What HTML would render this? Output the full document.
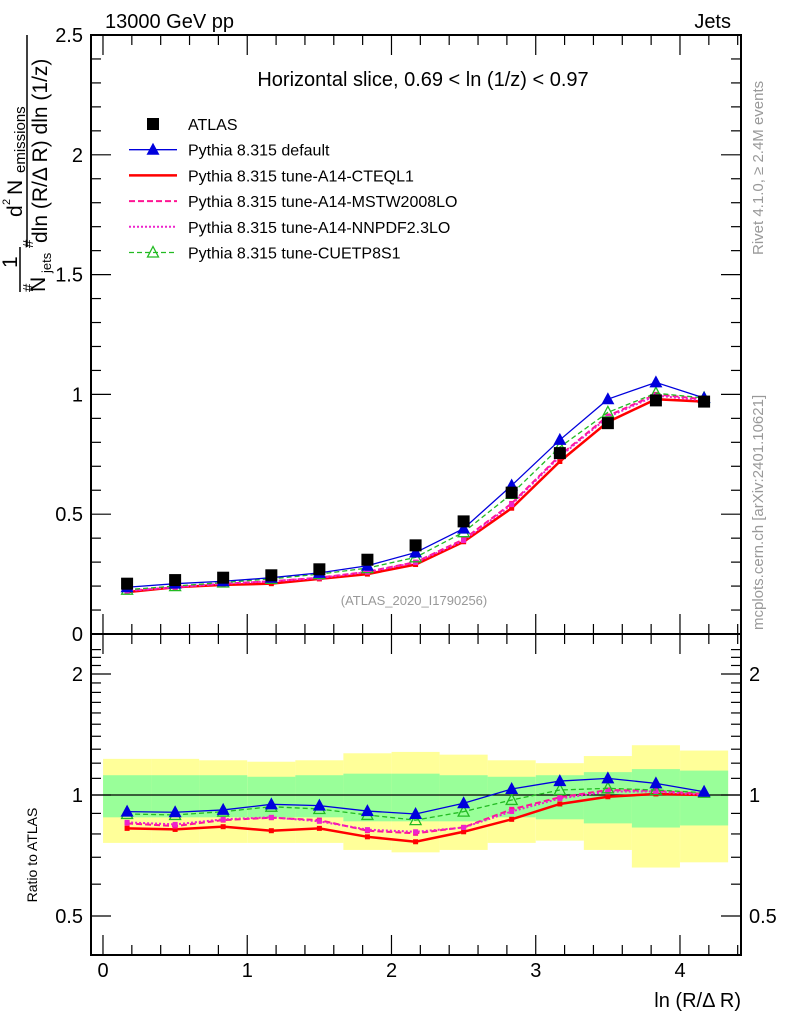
<!DOCTYPE html>
<html><head><meta charset="utf-8"><style>
html,body{margin:0;padding:0;background:#fff;}
svg{display:block;font-family:"Liberation Sans",sans-serif;}
</style></head><body>
<svg id="c" width="786" height="1024" viewBox="0 0 786 1024" xmlns="http://www.w3.org/2000/svg">
<g id="bands"></g>
<g id="axes"></g>
<g id="series"></g>
<text x="105" y="28" font-size="20">13000 GeV pp</text>
<text x="731" y="28" font-size="20" text-anchor="end">Jets</text>
<text x="423" y="86" font-size="20" text-anchor="middle">Horizontal slice, 0.69 &lt; ln (1/z) &lt; 0.97</text>
<text x="414" y="605" font-size="13" fill="#999" text-anchor="middle">(ATLAS_2020_I1790256)</text>
<text transform="translate(763,255) rotate(-90)" font-size="15" fill="#999">Rivet 4.1.0, ≥ 2.4M events</text>
<text transform="translate(763,630) rotate(-90)" font-size="15" fill="#999">mcplots.cern.ch [arXiv:2401.10621]</text>
<text x="741" y="1007" font-size="20" text-anchor="end">ln (R/Δ R)</text>
<text transform="translate(37,855) rotate(-90)" font-size="14" text-anchor="middle">Ratio to ATLAS</text>
<g font-size="21">
<text transform="translate(22,217) rotate(-90)">d</text>
<text transform="translate(10,205) rotate(-90)" font-size="11">2</text>
<text transform="translate(22,195) rotate(-90)">N</text>
<text transform="translate(25,173) rotate(-90)" font-size="15">emissions</text>
<line x1="27" y1="35" x2="27" y2="247" stroke="#000" stroke-width="1.5"/>
<text transform="translate(47,243) rotate(-90)">dln (R/Δ R) dln (1/z)</text>
<text transform="translate(33,248) rotate(-90)" font-size="15">#</text>
<text transform="translate(17,268) rotate(-90)">1</text>
<line x1="20" y1="247" x2="20" y2="292" stroke="#000" stroke-width="1.5"/>
<text transform="translate(33,292) rotate(-90)" font-size="15">#</text>
<text transform="translate(45,292) rotate(-90)">N</text>
<text transform="translate(51,273) rotate(-90)" font-size="13">jets</text>
</g>
<g id="legend"></g>
</svg>
<script>
const xCenters=[0.167,0.5,0.833,1.167,1.5,1.833,2.167,2.5,2.833,3.167,3.5,3.833,4.167];
const binWidth=0.3333;
const atlas=[0.21,0.225,0.235,0.245,0.27,0.31,0.37,0.47,0.59,0.755,0.88,0.975,0.97];
const mcDefault=[0.195,0.21,0.22,0.235,0.255,0.285,0.34,0.44,0.62,0.81,0.98,1.05,0.985];
const mcCTEQ=[0.175,0.195,0.205,0.21,0.23,0.25,0.29,0.385,0.525,0.72,0.885,0.98,0.97];
const mcMSTW=[0.18,0.195,0.21,0.22,0.235,0.26,0.30,0.395,0.545,0.745,0.91,1.0,0.98];
const mcNNPDF=[0.18,0.196,0.21,0.22,0.234,0.258,0.298,0.39,0.54,0.74,0.905,0.995,0.975];
const mcCUETP=[0.185,0.2,0.215,0.23,0.25,0.275,0.32,0.425,0.585,0.78,0.925,1.005,0.985];
const rDefault=[0.909,0.906,0.918,0.948,0.941,0.912,0.897,0.954,1.035,1.083,1.10,1.069,1.019];
const rCTEQ=[0.826,0.821,0.834,0.815,0.826,0.787,0.765,0.810,0.870,0.950,0.990,1.006,1.0];
const rMSTW=[0.850,0.837,0.866,0.878,0.866,0.815,0.803,0.831,0.921,0.987,1.029,1.025,1.006];
const rNNPDF=[0.855,0.845,0.870,0.880,0.860,0.820,0.810,0.830,0.910,0.980,1.020,1.020,1.0];
const rCUETP=[0.897,0.892,0.909,0.935,0.923,0.892,0.866,0.909,0.972,1.029,1.039,1.029,1.013];
const greenHi=[1.12,1.12,1.12,1.11,1.12,1.13,1.13,1.12,1.11,1.12,1.14,1.16,1.15];
const greenLo=[0.88,0.88,0.88,0.88,0.88,0.86,0.86,0.86,0.88,0.87,0.85,0.83,0.84];
const yellowHi=[1.23,1.23,1.22,1.21,1.22,1.27,1.28,1.26,1.22,1.20,1.25,1.33,1.29];
const yellowLo=[0.76,0.76,0.76,0.76,0.76,0.73,0.72,0.73,0.76,0.77,0.73,0.66,0.68];
const yTicks=[0,0.5,1,1.5,2,2.5];
const xTicks=[0,1,2,3,4];
const rTicks=[0.5,1,2];

const NS="http://www.w3.org/2000/svg";
const L=91,R=741,T=35,M=634,B=955;
const X=v=>103+v*144.25;
const Y=v=>634-v*239.6;
const YR=r=>795-121*Math.log2(r);
function mk(p,tag,a){const e=document.createElementNS(NS,tag);for(const k in a)e.setAttribute(k,a[k]);p.appendChild(e);return e;}
const bands=document.getElementById('bands'),axes=document.getElementById('axes'),ser=document.getElementById('series'),leg=document.getElementById('legend');
xCenters.forEach((c,i)=>{
 const x0=X(c-binWidth/2),w=X(c+binWidth/2)-x0;
 const y=mk(bands,'rect',{x:x0,y:YR(yellowHi[i]),width:w,height:YR(yellowLo[i])-YR(yellowHi[i]),fill:'#ffff99'});
 
 
});
xCenters.forEach((c,i)=>{
 const x0=X(c-binWidth/2),w=X(c+binWidth/2)-x0;
 const g=mk(bands,'rect',{x:x0,y:YR(greenHi[i]),width:w,height:YR(greenLo[i])-YR(greenHi[i]),fill:'#99ff99'});
 
 
});
mk(axes,'rect',{x:L,y:T,width:R-L,height:M-T,fill:'none',stroke:'#000','stroke-width':2});
mk(axes,'rect',{x:L,y:M,width:R-L,height:B-M,fill:'none',stroke:'#000','stroke-width':2});
mk(axes,'line',{x1:L,x2:R,y1:YR(1),y2:YR(1),stroke:'#000','stroke-width':1.2});
for(let v=0;v<=2.5001;v+=0.1){const maj=Math.abs(v*2-Math.round(v*2))<1e-6;const len=maj?20:10;
 mk(axes,'line',{x1:L,x2:L+len,y1:Y(v),y2:Y(v),stroke:'#000','stroke-width':1.2});
 mk(axes,'line',{x1:R,x2:R-len,y1:Y(v),y2:Y(v),stroke:'#000','stroke-width':1.2});}
yTicks.forEach(v=>{const t=mk(axes,'text',{x:L-8,y:Y(v)+7,'font-size':20,'text-anchor':'end'});t.textContent=String(v);
 
 });
for(let v=-0.0001;v<=4.4;v+=0.2){const maj=Math.abs(v-Math.round(v))<1e-3;const len=maj?20:10;
 [T,M].forEach(yb=>mk(axes,'line',{x1:X(v),x2:X(v),y1:yb,y2:yb+len,stroke:'#000','stroke-width':1.2}));
 [M,B].forEach(yb=>mk(axes,'line',{x1:X(v),x2:X(v),y1:yb,y2:yb-len,stroke:'#000','stroke-width':1.2}));}
xTicks.forEach(v=>{const t=mk(axes,'text',{x:X(v),y:977,'font-size':20,'text-anchor':'middle'});t.textContent=String(v);
 
 });
for(let r=0.5;r<=2.35;r+=0.1){const rr=Math.round(r*10)/10;if(YR(rr)<M)break;const maj=[0.5,1,2].includes(rr);const len=maj?20:10;
 mk(axes,'line',{x1:L,x2:L+len,y1:YR(rr),y2:YR(rr),stroke:'#000','stroke-width':1.2});
 mk(axes,'line',{x1:R,x2:R-len,y1:YR(rr),y2:YR(rr),stroke:'#000','stroke-width':1.2});}
rTicks.forEach(v=>{[[L-8,'end'],[R+8,'start']].forEach(([x,a])=>{const t=mk(axes,'text',{x:x,y:YR(v)+7,'font-size':20,'text-anchor':a});t.textContent=String(v);
 
 });});

function marker(g,type,x,y,col){
 if(type==='sq') mk(g,'rect',{x:x-6,y:y-6,width:12,height:12,fill:'#000'});
 else if(type==='tri') mk(g,'polygon',{points:`${x},${y-7} ${x-6.5},${y+5} ${x+6.5},${y+5}`,fill:col});
 else if(type==='otri') mk(g,'polygon',{points:`${x},${y-6} ${x-5.5},${y+4.5} ${x+5.5},${y+4.5}`,fill:'none',stroke:col,'stroke-width':1.3});
 else if(type==='dot') mk(g,'rect',{x:x-2.5,y:y-2.5,width:5,height:5,fill:col});
}
const specs=[
 {name:'cteq',top:mcCTEQ,rat:rCTEQ,col:'#ff0000',w:2.5,dash:'',m:'dot'},
 {name:'mstw',top:mcMSTW,rat:rMSTW,col:'#ff1493',w:2,dash:'6,3',m:'dot'},
 {name:'nnpdf',top:mcNNPDF,rat:rNNPDF,col:'#ee22cc',w:2,dash:'2,2',m:'dot'},
 {name:'cuetp',top:mcCUETP,rat:rCUETP,col:'#22bb22',w:1.3,dash:'5,3',m:'otri'},
 {name:'default',top:mcDefault,rat:rDefault,col:'#0000dd',w:1.3,dash:'',m:'tri'}];
specs.forEach(s=>{
 [[s.top,Y],[s.rat,YR]].forEach(([arr,f],k)=>{
  const g=mk(ser,'g',{});
  
  
  const pts=xCenters.map((c,i)=>X(c)+','+f(arr[i])).join(' ');
  const a={points:pts,fill:'none',stroke:s.col,'stroke-width':s.w};if(s.dash)a['stroke-dasharray']=s.dash;
  mk(g,'polyline',a);
  xCenters.forEach((c,i)=>marker(g,s.m,X(c),f(arr[i]),s.col));
 });
});
const dg=mk(ser,'g',{});


xCenters.forEach((c,i)=>marker(dg,'sq',X(c),Y(atlas[i]),'#000'));

const legItems=[['ATLAS','sq','#000','',0],['Pythia 8.315 default','tri','#0000dd','',1.3],['Pythia 8.315 tune-A14-CTEQL1','','#ff0000','',2.5],['Pythia 8.315 tune-A14-MSTW2008LO','','#ff1493','6,3',2],['Pythia 8.315 tune-A14-NNPDF2.3LO','','#ee22cc','2,2',2],['Pythia 8.315 tune-CUETP8S1','otri','#22bb22','5,3',1.3]];
legItems.forEach((it,i)=>{
 const y=124+i*25.7;
 const g=mk(leg,'g',{});
 
 
 if(it[4]){const a={x1:129,x2:177,y1:y,y2:y,stroke:it[2],'stroke-width':it[4]};if(it[3])a['stroke-dasharray']=it[3];mk(g,'line',a);}
 if(it[1])marker(g,it[1],153,y,it[2]);
 const t=mk(g,'text',{x:188,y:y+6,'font-size':16});t.textContent=it[0];
});
</script>
</body></html>
